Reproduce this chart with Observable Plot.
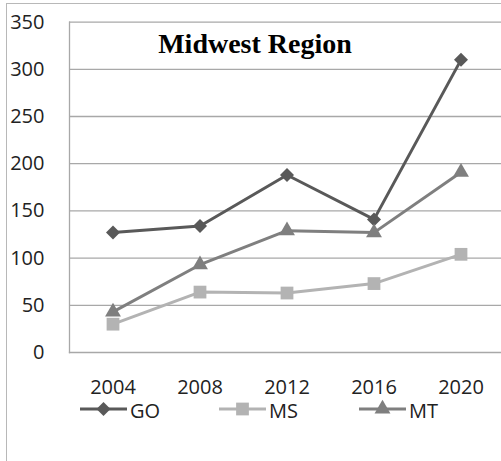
<!DOCTYPE html>
<html>
<head>
<meta charset="utf-8">
<script src="https://cdn.jsdelivr.net/npm/d3@7"></script>
<script src="https://cdn.jsdelivr.net/npm/@observablehq/plot@0.6"></script>
<style>
html, body { margin: 0; padding: 0; background: #fff; overflow: hidden; }
#wrap { position: relative; width: 501px; height: 461px; overflow: hidden; font-family: "Open Sans", sans-serif; }
#chart { position: absolute; left: 0; top: 0; }
#border { position: absolute; left: 6px; top: 3px; width: 700px; height: 700px; border-left: 1.5px solid #b8b8b8; border-top: 1.5px solid #b8b8b8; pointer-events: none; }
#title { position: absolute; left: 0; width: 510px; top: 28px; line-height: 28px; text-align: center; font: bold 28px "Liberation Serif", "Times New Roman", serif; color: #000; }
#legend { position: absolute; left: 0; top: 0; pointer-events: none; }
</style>
</head>
<body>
<div id="wrap">
  <div id="chart"></div>
  <div id="title">Midwest Region</div>
  <div id="border"></div>
</div>
<script>
const years = [2004, 2008, 2012, 2016, 2020];
const seriesNames = ["GO", "MS", "MT"];
const goValues = [127, 134, 188, 141, 310];
const msValues = [30, 64, 63, 73, 104];
const mtValues = [43, 93, 129, 127, 191];
const yTicks = [0, 50, 100, 150, 200, 250, 300, 350];
const seriesColors = ["#595959", "#b3b3b3", "#7f7f7f"];
const seriesSymbols = ["diamond2", "square", "triangle"];
const seriesRadius = [6.3, 7.2, 5.9];

const valuesBySeries = [goValues, msValues, mtValues];
const data = seriesNames.flatMap((s, si) =>
  years.map((yr, i) => ({ year: yr, series: s, value: valuesBySeries[si][i] }))
);

const plot = Plot.plot({
  width: 504,
  height: 461,
  marginLeft: 69,
  marginRight: 0,
  marginTop: 21.6,
  marginBottom: 109,
  x: { domain: [2002, 2022] },
  y: { domain: [0, 350] },
  color: { domain: seriesNames, range: seriesColors },
  symbol: { domain: seriesNames, range: seriesSymbols },
  style: { fontFamily: "Open Sans, sans-serif", fontSize: "20px", color: "#222", background: "transparent", overflow: "visible", maxWidth: "none" },
  marks: [
    Plot.gridY(yTicks.filter(d => d > 0), { stroke: "#a8a8a8", strokeOpacity: 1, strokeWidth: 1.3 }),
    Plot.frame({ anchor: "left", stroke: "#a8a8a8", strokeWidth: 1.3 }),
    Plot.frame({ anchor: "bottom", stroke: "#a8a8a8", strokeWidth: 1.3 }),
    Plot.axisY({ ticks: yTicks, tickSize: 0, tickPadding: 25, label: null, fontSize: 20, fill: "#222" }),
    Plot.axisX({ ticks: years, tickFormat: "d", tickSize: 0, tickPadding: 27, label: null, fontSize: 20, fill: "#222" }),
    Plot.line(data, { x: "year", y: "value", z: "series", stroke: "series", strokeWidth: 3 }),
    ...seriesNames.map((s, si) =>
      Plot.dot(data.filter(d => d.series === s), { x: "year", y: "value", symbol: "series", fill: "series", stroke: "none", r: seriesRadius[si] })
    )
  ]
});
document.getElementById("chart").appendChild(plot);

// Legend
const legendX = [80, 219, 359];
const legend = d3.select("#wrap").append("svg")
  .attr("id", "legend").attr("width", 501).attr("height", 461);
const symbolTypes = [d3.symbolDiamond2, d3.symbolSquare, d3.symbolTriangle];
seriesNames.forEach((s, i) => {
  const g = legend.append("g").attr("transform", `translate(${legendX[i]},409)`);
  g.append("line").attr("x1", 0).attr("x2", 47).attr("y1", 0).attr("y2", 0)
    .attr("stroke", seriesColors[i]).attr("stroke-width", 3);
  const size = Math.PI * seriesRadius[i] * seriesRadius[i];
  g.append("path").attr("d", d3.symbol(symbolTypes[i], size)())
    .attr("transform", "translate(23.5,0)").attr("fill", seriesColors[i]);
  g.append("text").attr("x", 50).attr("y", 9)
    .attr("font-family", "Open Sans, sans-serif").attr("font-size", 20).attr("fill", "#222")
    .text(s);
});
</script>
</body>
</html>
